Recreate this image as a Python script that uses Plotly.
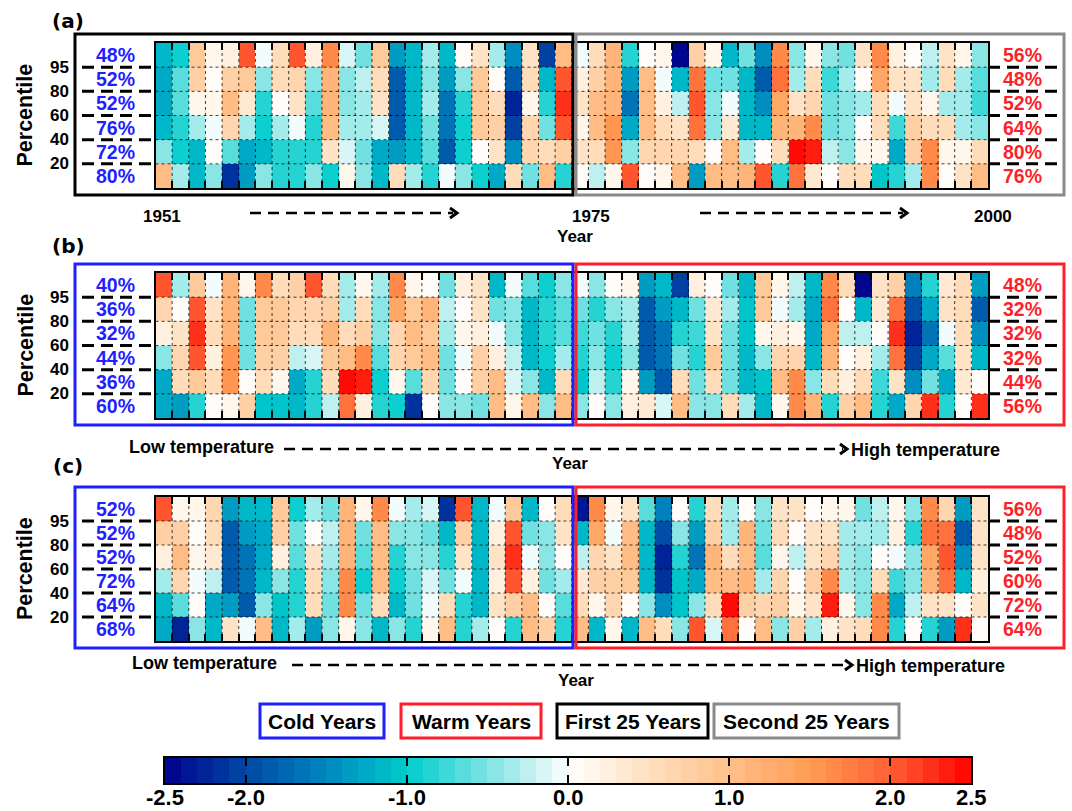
import plotly.graph_objects as go

W, H = 1072, 811

# ---------------- data (rows listed top -> bottom, 50 years each) ----------------
percentile_ticks = ["20", "40", "60", "80", "95"]

panel_a = [
    [-1.1,-0.95,0.9,0.2,0.3,2.0,-0.1,0.5,2.1,0.3,1.6,-0.15,-0.6,0.9,-1.4,-1.2,-0.35,-1.1,0.1,0.4,-0.3,-1.5,0.4,-2.1,1.0,
     -0.1,0.5,1.1,-0.85,0,0.15,-2.5,0.75,0.15,-1.1,-0.6,-1.5,1.6,-0.4,0.15,-0.5,-0.6,0.4,1.6,0.3,0.1,-0.25,0.45,0.2,-0.5],
    [-1.25,-0.7,0.8,0.1,0.8,0.85,-0.5,0.5,0.7,-0.5,1.1,-0.5,-0.2,0.5,-1.9,-1.1,-0.4,-1.4,-0.5,0.9,0,-1.9,0.6,-1.1,2.0,
     0.3,0.8,1.1,-1.4,1.05,-0.1,-1.1,1.8,-0.55,-0.6,-1.1,-1.8,1.8,-0.35,0.5,-0.75,-0.35,0.1,1.4,0.4,0.4,-0.3,0.5,-0.3,-0.65],
    [-1.25,-0.65,0.2,0.15,1.0,0.35,-0.8,0,0.4,-0.7,1.1,-0.45,-0.35,0.4,-1.9,-1.1,-0.35,-1.7,-0.8,0.9,0.5,-2.3,0.2,-0.8,2.2,
     0.4,1.0,1.2,-1.7,1.0,0.3,-0.2,2.0,-0.5,-0.1,-1.1,-1.5,1.4,0.4,0.7,-0.55,-0.5,-0.35,0.5,-0.1,0.4,0.15,-0.3,-0.3,-0.75],
    [-1.1,-0.85,-0.35,-0.1,0.7,-0.35,-1.0,-0.35,-0.1,-0.8,1.0,-0.3,-0.35,-0.15,-1.9,-1.15,-0.55,-1.7,-1.0,0.9,0.8,-2.1,0.7,-0.6,2.0,
     0.2,1.0,1.5,-1.3,1.0,0.6,0.45,1.8,-0.4,0.35,-1.15,-1.15,1.1,1.1,1.6,-0.55,-0.5,0.1,0.5,-0.75,0.8,0.6,0.6,-0.3,-0.4],
    [-0.4,-0.9,-1.1,0,-0.7,-1.3,-1.1,-0.8,-0.85,-0.8,0.45,-0.15,-0.6,-1.3,-1.4,-1.2,-0.65,-1.9,-1.0,0.1,0.4,-1.5,0.7,0.6,0.8,
     0.4,0.6,1.5,-0.4,0.7,0.7,0.7,0.5,0.1,1.0,-0.35,0.05,0.5,2.5,2.3,-0.2,-0.5,0.15,0.15,-1.3,0.8,1.6,0.2,0.15,0.5],
    [1.0,-0.35,-1.15,-0.4,-2.2,-1.4,-0.4,-0.85,-0.8,-0.4,-1.0,0.2,-0.5,-1.1,0.55,-0.35,-0.8,-0.05,-0.5,-0.9,-1.3,0.6,-0.55,1.0,-0.85,
     0,-0.2,0.2,2.1,0,0.15,1.0,-1.35,1.0,1.0,1.1,2.1,-0.8,1.9,0.35,0,0.5,0.55,-1.05,-0.85,-0.35,1.6,0,0.4,1.0],
]

panel_b = [
    [2.0,-0.35,0.9,-0.1,1.1,0.15,1.6,0.5,0.8,2.0,0.5,-0.35,0.15,-0.3,1.6,0.2,0,-0.6,0.3,0.4,-1.1,-0.1,-0.7,-0.9,-0.5,
     -0.1,-0.5,0.1,0.15,-1.4,-1.1,-2.1,0.3,0.1,-0.55,-1.1,0.85,0.15,-0.2,-1.1,1.6,0.55,-2.5,0.45,0.8,-1.6,-0.85,0.35,0.5,-1.4],
    [0.7,0,2.0,0.4,1.1,-0.6,0.9,0.9,0.7,0.7,0.75,-0.35,0.5,-0.45,1.4,0.9,1.1,-0.2,0.1,0.4,-0.6,-0.5,-1.1,-0.85,-0.65,
     -0.55,-0.85,-0.5,-0.35,-1.9,-1.4,-1.1,-0.55,0.35,-0.35,-1.05,0.85,-0.1,-0.3,-1.3,1.8,0.1,-1.1,0.35,1.9,-2.0,-1.3,0.4,0.5,-1.8],
    [0.25,0.4,2.2,0.5,1.2,-0.55,0.9,0.9,0.5,0.6,1.1,0.5,0.8,-0.4,0.7,1.0,0.9,-0.3,0.2,0.25,-0.1,-0.4,-1.1,-0.8,-0.7,
     -0.75,-0.6,-0.8,-0.35,-1.9,-1.7,-0.85,-0.75,0.4,-0.6,-1.05,0.2,0.3,0.2,-1.3,1.4,-0.2,-0.25,0,2.2,-2.3,-1.7,-0.1,0.5,-1.45],
    [-0.4,0.7,2.0,0.3,1.5,-0.55,0.8,0.8,-0.2,-0.15,0.9,1.0,1.6,-0.7,0.7,0.9,1.0,-0.55,-0.1,0.8,0.3,-0.2,-1.1,-0.9,-0.35,
     -0.85,-0.5,-1.0,-0.4,-1.9,-1.7,-0.55,-0.85,0.85,-0.6,-1.1,-0.4,0.7,0.7,-1.1,1.1,0.1,0.3,-0.3,1.9,-2.1,-1.25,-0.7,0.4,-1.1],
    [-1.3,0.6,0.9,0.6,1.5,0.1,0.6,0.15,-1.3,-0.8,0.5,2.5,2.3,-0.9,0.15,-0.7,0.7,-0.6,0.05,0.8,1.0,-0.15,-0.5,-1.1,0.6,
     -1.05,-0.2,-0.85,0.15,-1.4,-1.85,0.6,-0.6,0.5,-0.6,-1.1,-1.05,1.0,1.7,-0.5,0.5,0.3,0.5,-0.75,0.45,-1.5,-0.55,-1.25,0.35,0.05],
    [-1.3,-1.35,-0.85,0,0.2,0.8,-1.05,-1.05,-1.1,-0.85,-0.2,1.9,0.3,-0.85,-1.0,-2.2,0,-0.4,-0.5,-0.6,1.05,0.2,1.0,-0.4,1.0,
     -0.4,0,-0.5,0.3,0.35,-0.15,1.0,-0.4,-0.4,0.5,-0.3,-1.15,0.2,1.6,1.1,-0.8,0.8,1.0,-0.85,-1.3,0.7,2.2,-0.85,0,2.2],
]

panel_c = [
    [2.0,0.2,0.2,0.7,-1.4,-1.15,-1.1,0.9,-0.9,-0.35,-0.6,1.1,0.15,1.6,-0.1,-0.35,-0.15,-2.2,2.0,-1.15,-0.1,0.9,-1.1,0.1,0.5,
     -2.4,1.6,0.15,0.4,-0.65,-1.6,0.05,-0.8,0.5,-0.35,0,-0.5,0.4,0.4,0.1,0.15,0.2,-0.6,-0.25,0.2,-0.5,1.6,0.7,-1.4,0.4],
    [0.8,0.8,0.1,0.6,-1.9,-1.4,-1.3,0.8,-0.6,0,-0.2,1.1,-0.55,1.0,-0.5,-0.5,-0.55,-1.1,0.75,-1.1,0.3,2.0,-0.55,-0.5,0.4,
     -1.1,1.4,-0.1,1.0,-1.1,-2.0,-0.4,-1.4,0.8,-0.3,1.1,-0.6,0.5,0.1,0.4,0.4,-0.3,-0.35,-0.3,0.3,-0.8,1.8,1.8,-1.8,0.45],
    [0.3,1.0,0.15,0.35,-1.9,-1.7,-1.3,0.25,-0.7,0.45,-0.35,1.2,-0.65,1.0,-0.8,-0.4,-0.5,-0.8,0.4,-1.1,0.4,2.2,-0.1,-0.5,0,
     -0.2,0.7,0.4,1.0,-1.1,-2.3,-0.8,-1.7,1.1,0.5,1.0,-0.7,0.2,-0.2,0.4,0.7,-0.35,-0.45,0.1,-0.1,-0.5,1.4,2.1,-1.45,0.4],
    [-0.35,0.7,-0.1,-0.25,-1.9,-1.7,-1.1,-0.4,-0.8,0.6,-0.5,1.6,-0.9,1.0,-1.0,-0.6,-0.15,-0.6,-0.1,-1.15,0.3,2.0,0.3,-0.55,-0.35,
     0.35,0.8,0.8,0.9,-1.1,-2.2,-1.05,-1.3,1.0,1.0,1.1,-0.35,0.7,0.1,0.8,1.6,-0.35,-0.45,0.5,-0.75,-0.5,1.1,1.8,-1.15,0.3],
    [-1.2,-0.65,0,-1.3,-1.35,-1.8,-0.4,-1.05,-0.8,0.5,-0.6,1.6,-0.6,0.5,-1.1,-0.55,-0.1,0.5,-0.8,-1.15,0.4,0.8,1.0,0.1,-0.7,
     0.5,0.2,0.7,0.05,-0.4,-1.5,-1.05,-0.4,0.5,2.5,0.8,0.7,0.75,0.2,0.4,2.4,0.15,-0.5,1.6,-1.3,-0.2,0.45,0.4,0.05,0.4],
    [-1.3,-2.3,-0.4,-1.1,0.4,-0.1,1.0,-1.1,-0.35,-1.35,-0.4,0.2,-0.4,-1.1,-0.4,-0.85,0.15,1.0,-0.85,-0.35,0,-0.85,1.0,0.8,-0.8,
     1.0,-1.1,0.2,-1.1,1.0,0.6,-0.4,2.0,-0.15,1.8,0,1.0,-0.4,0.8,-0.35,0.3,0.4,0.5,1.6,-0.85,0,-0.8,-1.35,2.2,0],
]

# percentages (top -> bottom rows)
pct_a_left = ["48%", "52%", "52%", "76%", "72%", "80%"]
pct_a_right = ["56%", "48%", "52%", "64%", "80%", "76%"]
pct_b_left = ["40%", "36%", "32%", "44%", "36%", "60%"]
pct_b_right = ["48%", "32%", "32%", "32%", "44%", "56%"]
pct_c_left = ["52%", "52%", "52%", "72%", "64%", "68%"]
pct_c_right = ["56%", "48%", "52%", "60%", "72%", "64%"]

cbar_tickvals = [-2.5, -2.0, -1.0, 0.0, 1.0, 2.0, 2.5]
cbar_ticktext = ["-2.5", "-2.0", "-1.0", "0.0", "1.0", "2.0", "2.5"]
legend_labels = ["Cold Years", "Warm Years", "First 25 Years", "Second 25 Years"]

# ---------------- styling ----------------
FONT = "Liberation Sans, Arial, sans-serif"
WIDE = "DejaVu Sans, Verdana, sans-serif"
BLUE = "#1f1fff"
RED = "#ff1f2a"
GRAY = "#8a8a8a"
ZMIN, ZMAX = -2.5, 2.5

anchors = [
    (-2.5, (0, 0, 140)), (-2.0, (0, 72, 165)), (-1.5, (0, 135, 190)),
    (-1.0, (0, 205, 205)), (-0.5, (125, 226, 226)), (0.0, (255, 255, 255)),
    (0.5, (255, 224, 192)), (1.0, (255, 192, 138)), (1.5, (255, 156, 84)),
    (2.0, (255, 96, 52)), (2.5, (255, 0, 0)),
]


def interp(v):
    for (v0, c0), (v1, c1) in zip(anchors[:-1], anchors[1:]):
        if v0 <= v <= v1:
            t = (v - v0) / (v1 - v0)
            return tuple(int(round(a + (b - a) * t)) for a, b in zip(c0, c1))
    return anchors[-1][1]


NSTEP = 50
colorscale = []
for i in range(NSTEP):
    v = ZMIN + (ZMAX - ZMIN) * (i + 0.5) / NSTEP
    c = "rgb(%d,%d,%d)" % interp(v)
    colorscale.append([i / NSTEP, c])
    colorscale.append([(i + 1) / NSTEP, c])


def px(x):
    return x / W


def py(y):
    return 1 - y / H


fig = go.Figure()
shapes = []
annotations = []


def ann(t, xref, yref, x, y, size, color="black", family=FONT, xanchor="center", **kw):
    annotations.append(dict(text="<b>%s</b>" % t, xref=xref, yref=yref, x=x, y=y,
                            xanchor=xanchor, yanchor="middle", showarrow=False,
                            font=dict(family=family, size=size, color=color), **kw))


panels = [
    dict(z=panel_a, left=pct_a_left, right=pct_a_right, top=43, bot=188, ftop=34, fbot=195,
         cl=("black", GRAY), label="(a)", ly=21),
    dict(z=panel_b, left=pct_b_left, right=pct_b_right, top=273, bot=418, ftop=264, fbot=425,
         cl=(BLUE, RED), label="(b)", ly=246),
    dict(z=panel_c, left=pct_c_left, right=pct_c_right, top=497, bot=641, ftop=487, fbot=648,
         cl=(BLUE, RED), label="(c)", ly=466),
]

HX0, HX1 = 155.5, 988
ncol = len(panel_a[0])
nrow = len(panel_a)
cols = list(range(1, ncol + 1))
rows = list(range(1, nrow + 1))

layout_axes = {}
for i, p in enumerate(panels):
    n = "" if i == 0 else str(i + 1)
    xa, ya = "x" + n, "y" + n
    fig.add_trace(go.Heatmap(
        z=p["z"][::-1], x=cols, y=rows, coloraxis="coloraxis",
        xaxis=xa, yaxis=ya, hoverinfo="skip", xgap=0, ygap=0,
    ))
    layout_axes["xaxis" + n] = dict(
        domain=[px(HX0), px(HX1)], range=[0.5, ncol + 0.5], anchor=ya,
        showgrid=False, zeroline=False, showticklabels=False,
        tickvals=[k + 0.5 for k in range(0, ncol + 1)], ticks="inside", ticklen=7,
        tickwidth=2, tickcolor="black", showline=True, linecolor="black",
        linewidth=2, mirror="ticks",
    )
    layout_axes["yaxis" + n] = dict(
        domain=[py(p["bot"]), py(p["top"])], range=[0.5, nrow + 0.5], anchor=xa,
        showgrid=False, zeroline=False, showticklabels=False, ticks="",
        showline=True, linecolor="black", linewidth=2, mirror=True,
    )
    # dotted cell grid
    for k in range(1, ncol):
        shapes.append(dict(type="line", xref=xa, yref=ya, x0=k + 0.5, x1=k + 0.5,
                           y0=0.5, y1=nrow + 0.5, layer="above",
                           line=dict(color="rgba(0,0,0,0.75)", width=1, dash="dot")))
    for r in range(1, nrow):
        shapes.append(dict(type="line", xref=xa, yref=ya, x0=0.5, x1=ncol + 0.5,
                           y0=r + 0.5, y1=r + 0.5, layer="above",
                           line=dict(color="rgba(0,0,0,0.75)", width=1, dash="dot")))
        # dashed guide lines outside the heatmap
        shapes.append(dict(type="line", xref="paper", yref=ya, x0=px(82), x1=px(HX0),
                           y0=r + 0.5, y1=r + 0.5,
                           line=dict(color="black", width=3, dash="12px,7px")))
        shapes.append(dict(type="line", xref="paper", yref=ya, x0=px(HX1), x1=px(1062),
                           y0=r + 0.5, y1=r + 0.5,
                           line=dict(color="black", width=3, dash="12px,7px")))
        ann(percentile_ticks[r - 1], "paper", ya, px(71), r + 0.5, 17, xanchor="right")
    # percentage labels
    for r in range(nrow):
        yv = nrow - r
        ann(p["left"][r], "paper", ya, px(115), yv, 19.5, color=BLUE)
        ann(p["right"][r], "paper", ya, px(1022), yv, 19.5, color=RED)
    # group frames
    shapes.append(dict(type="rect", xref="paper", yref="paper", x0=px(75), x1=px(573),
                       y0=py(p["fbot"]), y1=py(p["ftop"]),
                       line=dict(color=p["cl"][0], width=3)))
    shapes.append(dict(type="rect", xref="paper", yref="paper", x0=px(576), x1=px(1064),
                       y0=py(p["fbot"]), y1=py(p["ftop"]),
                       line=dict(color=p["cl"][1], width=3)))
    # panel label and y title
    ann(p["label"], "paper", "paper", px(68), py(p["ly"]), 20, family=WIDE)
    ann("Percentile", "paper", "paper", px(25), py((p["top"] + p["bot"]) / 2), 21.5, textangle=-90)

# ---- colour bar drawn as a strip of the stepped colour scale ----
CB_X0, CB_X1, CB_TOP, CB_TH = 165, 971, 758, 25
bin_w = (ZMAX - ZMIN) / NSTEP
bin_centers = [ZMIN + bin_w * (k + 0.5) for k in range(NSTEP)]
fig.add_trace(go.Heatmap(
    z=[bin_centers], x=bin_centers, y=[0], coloraxis="coloraxis",
    xaxis="x4", yaxis="y4", hoverinfo="skip",
))
layout_axes["xaxis4"] = dict(
    domain=[px(CB_X0), px(CB_X1)], range=[ZMIN, ZMAX], anchor="y4",
    showgrid=False, zeroline=False, showticklabels=False,
    tickvals=cbar_tickvals[1:-1], ticks="inside", ticklen=8, tickwidth=2,
    tickcolor="black", showline=True, linecolor="black", linewidth=1.5, mirror="ticks",
)
layout_axes["yaxis4"] = dict(
    domain=[py(CB_TOP + CB_TH), py(CB_TOP)], range=[-0.5, 0.5], anchor="x4",
    showgrid=False, zeroline=False, showticklabels=False, ticks="",
    showline=True, linecolor="black", linewidth=1.5, mirror=True,
)

fig.update_layout(**layout_axes)


def text(t, x, y, size=17, color="black", xanchor="center"):
    ann(t, "paper", "paper", px(x), py(y), size, color=color, xanchor=xanchor)


def dashed_arrow(x0, x1, y):
    shapes.append(dict(type="line", xref="paper", yref="paper", x0=px(x0), x1=px(x1 - 4),
                       y0=py(y), y1=py(y), line=dict(color="black", width=2.5, dash="11px,7px")))
    shapes.append(dict(type="path", xref="paper", yref="paper",
                       path="M %f,%f L %f,%f L %f,%f" % (px(x1 - 7), py(y - 5), px(x1), py(y),
                                                         px(x1 - 7), py(y + 5)),
                       line=dict(color="black", width=3)))


# panel (a) x annotations
text("1951", 162, 216)
text("1975", 591, 216)
text("2000", 993, 216)
dashed_arrow(250, 457, 213)
dashed_arrow(700, 907, 213)
text("Year", 575, 236)
# panel (b)
text("Low temperature", 127, 447, size=18, xanchor="left")
dashed_arrow(284, 847, 449)
text("High temperature", 849, 450, size=18, xanchor="left")
text("Year", 570, 463)
# panel (c)
text("Low temperature", 130, 663, size=18, xanchor="left")
dashed_arrow(292, 852, 665)
text("High temperature", 854, 666, size=18, xanchor="left")
text("Year", 576, 680)

# legend boxes
legend_boxes = [(260, 384, BLUE), (401, 541, RED), (557, 708, "black"), (714, 899, GRAY)]
for lab, (x0, x1, c) in zip(legend_labels, legend_boxes):
    shapes.append(dict(type="rect", xref="paper", yref="paper", x0=px(x0), x1=px(x1),
                       y0=py(738), y1=py(704), line=dict(color=c, width=3)))
    text(lab, (x0 + x1) / 2, 721, size=21)

# colour bar tick labels
for v, t in zip(cbar_tickvals, cbar_ticktext):
    annotations.append(dict(text="<b>%s</b>" % t, xref="x4", yref="paper", x=v, y=py(797),
                            xanchor="center", yanchor="middle", showarrow=False,
                            font=dict(family=FONT, size=22, color="black")))

fig.update_layout(
    width=W, height=H, margin=dict(l=0, r=0, t=0, b=0, autoexpand=False),
    paper_bgcolor="white", plot_bgcolor="white",
    shapes=shapes, annotations=annotations,
    coloraxis=dict(colorscale=colorscale, cmin=ZMIN, cmax=ZMAX, showscale=False),
    showlegend=False,
)

fig.write_html(
    "out.html",
    config={"displayModeBar": False},
    post_script="document.body.style.margin='0';document.body.style.overflow='hidden';",
)
